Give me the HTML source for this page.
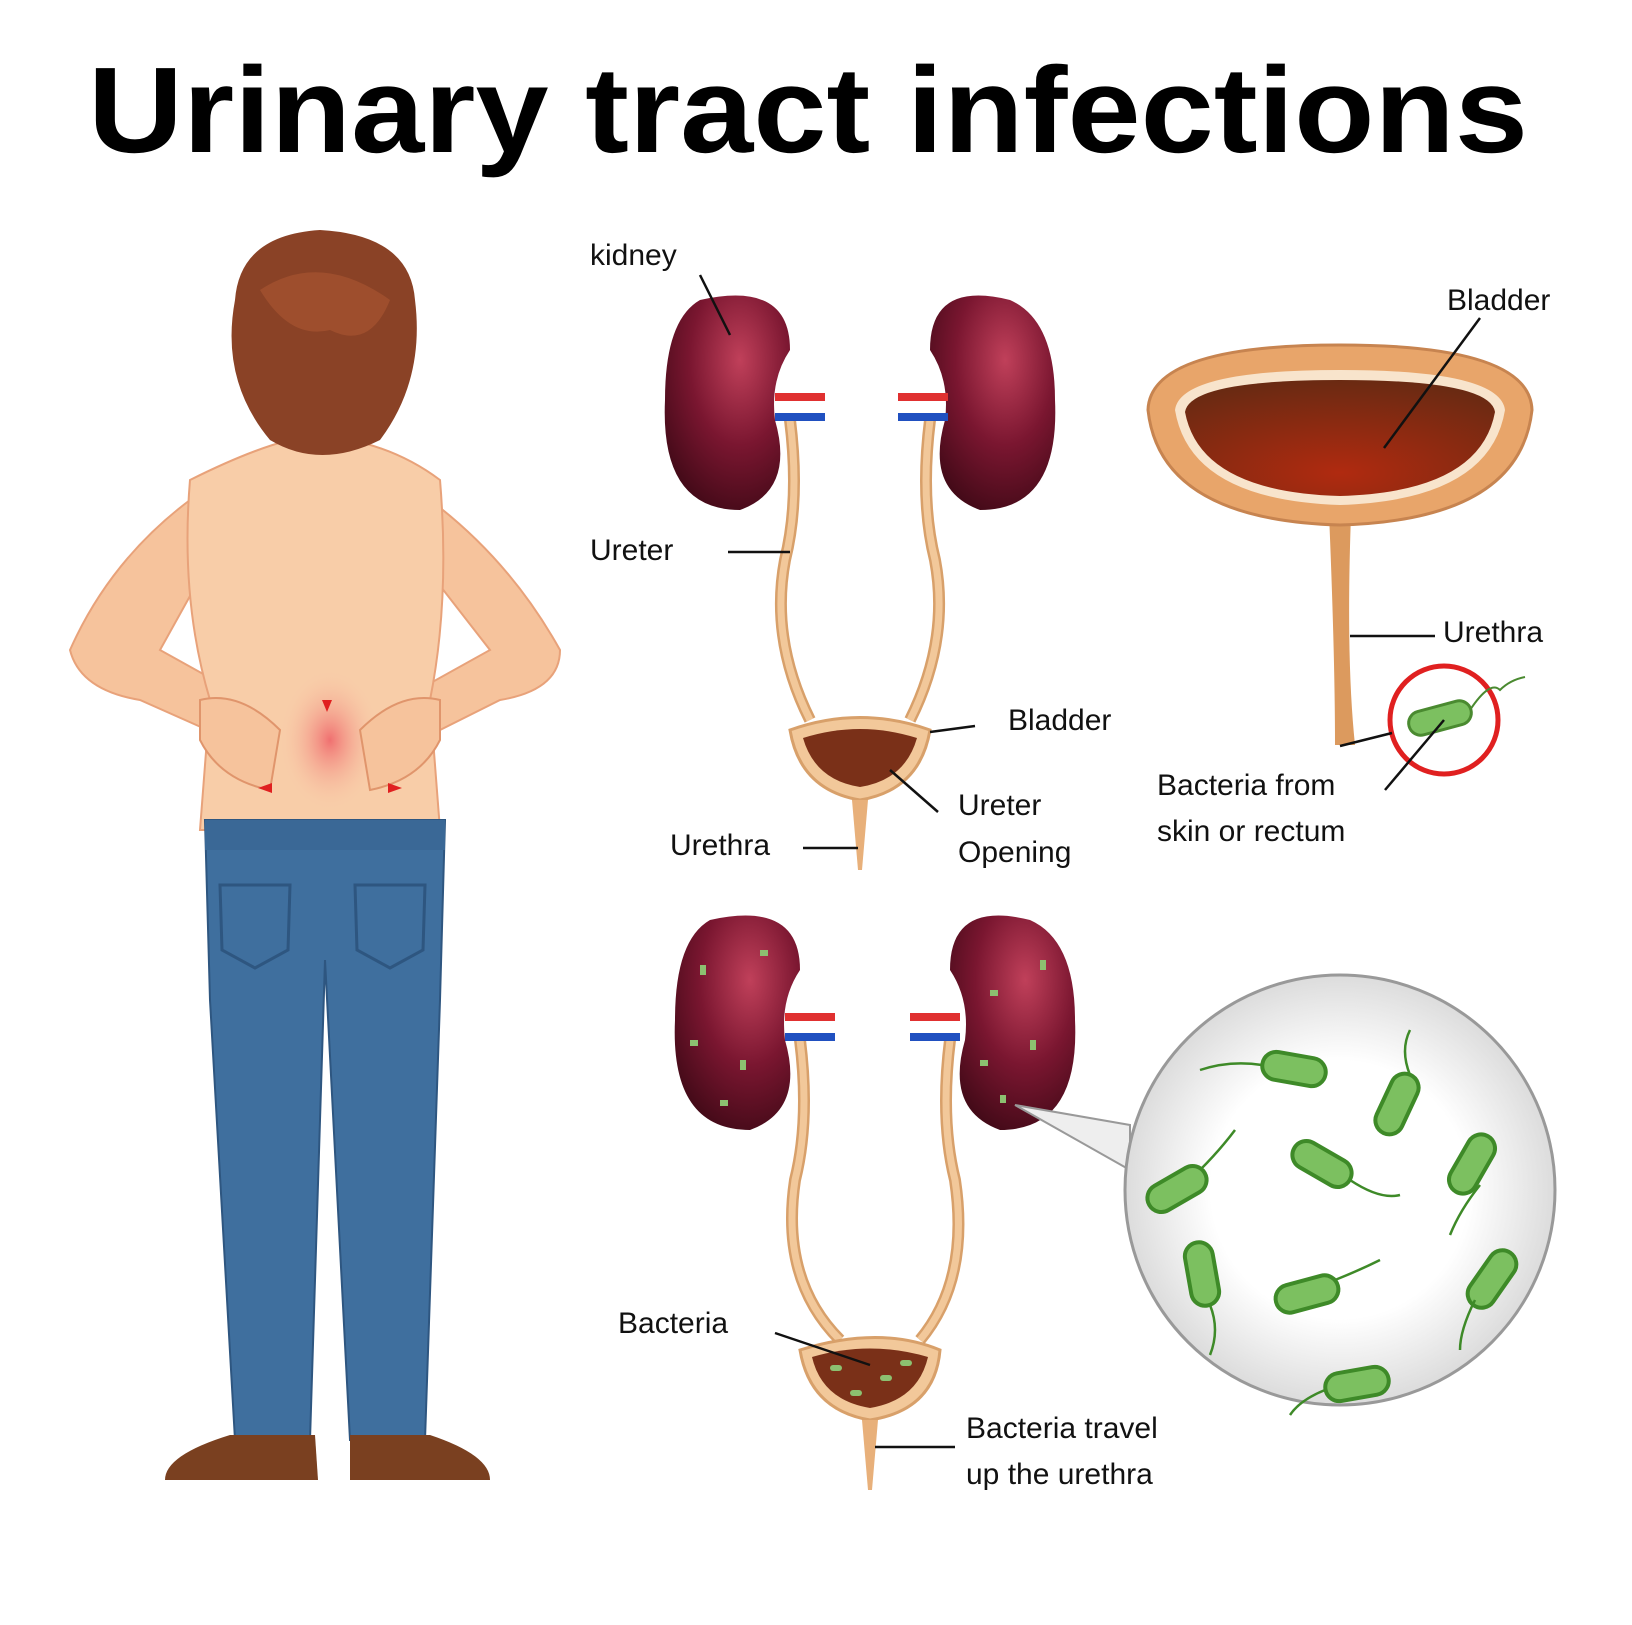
<!DOCTYPE html>
<html><head><meta charset="utf-8"><style>html,body{margin:0;padding:0;background:#fff}svg{display:block}</style></head><body>
<svg width="1632" height="1625" viewBox="0 0 1632 1625" xmlns="http://www.w3.org/2000/svg" font-family="Liberation Sans, sans-serif">
<defs>
<radialGradient id="kid" cx="0.6" cy="0.3" r="0.8"><stop offset="0" stop-color="#c0405a"/><stop offset="0.5" stop-color="#7a1630"/><stop offset="1" stop-color="#3a0814"/></radialGradient>
<radialGradient id="bl" cx="0.5" cy="0.8" r="0.8"><stop offset="0" stop-color="#b02a10"/><stop offset="1" stop-color="#6a2a12"/></radialGradient>
<radialGradient id="zoom" cx="0.5" cy="0.5" r="0.5"><stop offset="0.6" stop-color="#ffffff"/><stop offset="1" stop-color="#dcdcdc"/></radialGradient>
<radialGradient id="pain" cx="0.5" cy="0.5" r="0.5"><stop offset="0" stop-color="#f07070"/><stop offset="1" stop-color="#f8c8a8" stop-opacity="0"/></radialGradient>
</defs>
<rect width="1632" height="1625" fill="#fff"/>
<text x="808" y="152" font-size="122" font-weight="bold" text-anchor="middle" textLength="1440" lengthAdjust="spacingAndGlyphs">Urinary tract infections</text>

<!-- man -->
<g>
<!-- arms -->
<path d="M190 500 Q110 560 70 650 Q80 690 140 700 L230 740 L250 700 L160 650 L210 560Z" fill="#f6c39c" stroke="#e8a27a" stroke-width="2"/>
<path d="M430 500 Q510 560 560 650 Q560 690 500 700 L420 740 L400 700 L490 650 L420 560Z" fill="#f6c39c" stroke="#e8a27a" stroke-width="2"/>
<path d="M190 480 Q250 450 290 440 L290 420 L350 420 L350 440 Q400 450 440 480 Q450 600 430 700 L440 830 L200 830 L210 700 Q180 600 190 480Z" fill="#f8cda8" stroke="#e8a27a" stroke-width="2"/>
<ellipse cx="330" cy="740" rx="50" ry="70" fill="url(#pain)"/>
<path d="M200 700 Q240 690 280 730 L270 790 Q220 780 200 740Z" fill="#f6c39c" stroke="#e0956c" stroke-width="2"/>
<path d="M440 700 Q400 690 360 730 L370 790 Q420 780 440 740Z" fill="#f6c39c" stroke="#e0956c" stroke-width="2"/>
<path d="M322 700 l10 0 l-5 12z M258 788 l14 -5 l0 10z M402 788 l-14 -5 l0 10z M330 850 l-6 12 l12 0z" fill="#e02020"/>
<!-- hair -->
<path d="M235 300 Q240 235 320 230 Q410 235 415 300 Q425 380 380 440 Q320 470 270 440 Q220 380 235 300Z" fill="#8a4226"/>
<path d="M260 290 Q320 250 390 300 Q370 350 330 330 Q290 340 260 290Z" fill="#a65430" opacity="0.7"/>
<!-- jeans -->
<path d="M205 820 L445 820 L440 1000 L425 1440 L350 1440 L325 960 L310 1440 L235 1440 L210 1000Z" fill="#3f6f9e" stroke="#2e5680" stroke-width="2"/>
<rect x="205" y="820" width="240" height="30" fill="#3a6896"/>
<path d="M220 885 L290 885 L288 950 L255 968 L222 950Z" fill="none" stroke="#2e5680" stroke-width="3"/>
<path d="M355 885 L425 885 L423 950 L390 968 L357 950Z" fill="none" stroke="#2e5680" stroke-width="3"/>
<!-- shoes -->
<path d="M230 1435 L315 1435 L318 1480 L165 1480 Q165 1455 230 1435Z" fill="#7a4020"/>
<path d="M350 1435 L430 1435 Q490 1455 490 1480 L350 1480Z" fill="#7a4020"/>
</g>

<!-- top urinary system -->
<g>
<path d="M790 420 Q800 500 785 560 Q770 640 810 720" fill="none" stroke="#d8a06a" stroke-width="12"/>
<path d="M790 420 Q800 500 785 560 Q770 640 810 720" fill="none" stroke="#f2c89a" stroke-width="7"/>
<path d="M930 420 Q920 500 935 560 Q950 640 910 720" fill="none" stroke="#d8a06a" stroke-width="12"/>
<path d="M930 420 Q920 500 935 560 Q950 640 910 720" fill="none" stroke="#f2c89a" stroke-width="7"/>
<path d="M700 300 Q790 280 790 350 Q770 380 775 420 Q795 490 740 510 Q660 510 665 400 Q665 320 700 300Z" fill="url(#kid)"/>
<path d="M1010 300 Q930 280 930 350 Q950 380 945 420 Q925 490 980 510 Q1060 510 1055 400 Q1055 320 1010 300Z" fill="url(#kid)"/>
<rect x="775" y="393" width="50" height="8" fill="#e03030"/><rect x="775" y="413" width="50" height="8" fill="#2050c0"/>
<rect x="898" y="393" width="50" height="8" fill="#e03030"/><rect x="898" y="413" width="50" height="8" fill="#2050c0"/>
<path d="M790 730 Q860 705 930 730 Q920 790 860 800 Q800 790 790 730Z" fill="#f2c89a" stroke="#d8a06a" stroke-width="3"/>
<path d="M803 738 Q860 720 917 738 Q905 780 860 787 Q815 780 803 738Z" fill="#7a3018"/>
<path d="M852 800 L868 800 L862 870 L858 870Z" fill="#e8b07a"/>
</g>
<g font-size="30" fill="#111">
<text x="590" y="265">kidney</text>
<line x1="700" y1="275" x2="730" y2="335" stroke="#111" stroke-width="2.5"/>
<text x="590" y="560">Ureter</text>
<line x1="728" y1="552" x2="790" y2="552" stroke="#111" stroke-width="2.5"/>
<text x="1008" y="730">Bladder</text>
<line x1="930" y1="732" x2="975" y2="726" stroke="#111" stroke-width="2.5"/>
<text x="958" y="815">Ureter</text>
<text x="958" y="862">Opening</text>
<line x1="890" y1="770" x2="938" y2="812" stroke="#111" stroke-width="2.5"/>
<text x="670" y="855">Urethra</text>
<line x1="803" y1="848" x2="858" y2="848" stroke="#111" stroke-width="2.5"/>
</g>

<!-- big bladder -->
<g>
<path d="M1328 490 L1352 490 Q1345 650 1355 745 L1335 745 Q1335 650 1328 490Z" fill="#dc9a5e"/>
<path d="M1148 410 Q1150 345 1340 345 Q1530 345 1532 410 Q1520 520 1340 525 Q1160 520 1148 410Z" fill="#e8a56a" stroke="#c78450" stroke-width="3"/>
<path d="M1175 410 Q1180 370 1340 370 Q1500 370 1505 410 Q1490 500 1340 505 Q1190 500 1175 410Z" fill="#f8e4cc"/>
<path d="M1185 412 Q1190 380 1340 380 Q1490 380 1495 412 Q1480 492 1340 496 Q1200 492 1185 412Z" fill="url(#bl)"/>
<circle cx="1444" cy="720" r="54" fill="none" stroke="#e02020" stroke-width="5"/>
<rect x="1408" y="706" width="64" height="24" rx="12" fill="#7cc060" stroke="#4a8a30" stroke-width="3" transform="rotate(-15 1440 718)"/>
<path d="M1470 710 Q1490 680 1500 690 Q1510 680 1525 677" fill="none" stroke="#4a8a30" stroke-width="2"/>
</g>
<g font-size="30" fill="#111">
<text x="1447" y="310">Bladder</text>
<line x1="1480" y1="318" x2="1384" y2="448" stroke="#111" stroke-width="2.5"/>
<text x="1443" y="642">Urethra</text>
<line x1="1350" y1="636" x2="1435" y2="636" stroke="#111" stroke-width="2.5"/>
<text x="1157" y="795">Bacteria from</text>
<text x="1157" y="841">skin or rectum</text>
<line x1="1340" y1="746" x2="1392" y2="733" stroke="#111" stroke-width="2.5"/>
<line x1="1385" y1="790" x2="1444" y2="720" stroke="#111" stroke-width="2.5"/>
</g>

<!-- bottom urinary system -->
<g>
<path d="M800 1040 Q810 1120 795 1180 Q780 1280 840 1340" fill="none" stroke="#d8a06a" stroke-width="12"/>
<path d="M800 1040 Q810 1120 795 1180 Q780 1280 840 1340" fill="none" stroke="#f2c89a" stroke-width="7"/>
<path d="M950 1040 Q940 1120 955 1180 Q970 1280 920 1340" fill="none" stroke="#d8a06a" stroke-width="12"/>
<path d="M950 1040 Q940 1120 955 1180 Q970 1280 920 1340" fill="none" stroke="#f2c89a" stroke-width="7"/>
<path d="M710 920 Q800 900 800 970 Q780 1000 785 1040 Q805 1110 750 1130 Q670 1130 675 1020 Q675 940 710 920Z" fill="url(#kid)"/>
<path d="M1030 920 Q950 900 950 970 Q970 1000 965 1040 Q945 1110 1000 1130 Q1080 1130 1075 1020 Q1075 940 1030 920Z" fill="url(#kid)"/>
<rect x="785" y="1013" width="50" height="8" fill="#e03030"/><rect x="785" y="1033" width="50" height="8" fill="#2050c0"/>
<rect x="910" y="1013" width="50" height="8" fill="#e03030"/><rect x="910" y="1033" width="50" height="8" fill="#2050c0"/>
<g fill="#8cc070">
<rect x="700" y="965" width="6" height="10"/><rect x="690" y="1040" width="8" height="6"/><rect x="760" y="950" width="8" height="6"/><rect x="740" y="1060" width="6" height="10"/><rect x="720" y="1100" width="8" height="6"/>
<rect x="1040" y="960" width="6" height="10"/><rect x="990" y="990" width="8" height="6"/><rect x="1030" y="1040" width="6" height="10"/><rect x="980" y="1060" width="8" height="6"/><rect x="1000" y="1095" width="6" height="8"/>
</g>
<path d="M800 1350 Q880 1325 940 1350 Q935 1410 870 1420 Q810 1410 800 1350Z" fill="#f2c89a" stroke="#d8a06a" stroke-width="3"/>
<path d="M812 1357 Q870 1340 928 1357 Q918 1400 870 1408 Q822 1400 812 1357Z" fill="#7a3018"/>
<g fill="#8cc070"><rect x="830" y="1365" width="12" height="6" rx="3"/><rect x="880" y="1375" width="12" height="6" rx="3"/><rect x="850" y="1390" width="12" height="6" rx="3"/><rect x="900" y="1360" width="12" height="6" rx="3"/></g>
<path d="M862 1420 L878 1420 L872 1490 L868 1490Z" fill="#e8b07a"/>
<!-- zoom -->
<path d="M1015 1105 L1130 1125 L1130 1170Z" fill="#eee" stroke="#999" stroke-width="2"/>
<circle cx="1340" cy="1190" r="215" fill="url(#zoom)" stroke="#999" stroke-width="3"/>
<g fill="#7cc060" stroke="#3e8a28" stroke-width="4">
<rect x="1262" y="1055" width="64" height="28" rx="14" transform="rotate(10 1294 1069)"/>
<rect x="1365" y="1090" width="64" height="28" rx="14" transform="rotate(-65 1397 1104)"/>
<rect x="1290" y="1150" width="64" height="28" rx="14" transform="rotate(30 1322 1164)"/>
<rect x="1440" y="1150" width="64" height="28" rx="14" transform="rotate(-60 1472 1164)"/>
<rect x="1145" y="1175" width="64" height="28" rx="14" transform="rotate(-30 1177 1189)"/>
<rect x="1170" y="1260" width="64" height="28" rx="14" transform="rotate(80 1202 1274)"/>
<rect x="1275" y="1280" width="64" height="28" rx="14" transform="rotate(-15 1307 1294)"/>
<rect x="1460" y="1265" width="64" height="28" rx="14" transform="rotate(-55 1492 1279)"/>
<rect x="1325" y="1370" width="64" height="28" rx="14" transform="rotate(-10 1357 1384)"/>
</g>
<g fill="none" stroke="#3e8a28" stroke-width="2.5">
<path d="M1262 1065 Q1230 1060 1200 1070"/><path d="M1410 1075 Q1400 1050 1410 1030"/><path d="M1350 1180 Q1380 1200 1400 1195"/>
<path d="M1480 1185 Q1460 1210 1450 1235"/><path d="M1200 1170 Q1220 1150 1235 1130"/><path d="M1210 1305 Q1220 1330 1210 1355"/>
<path d="M1335 1280 Q1360 1270 1380 1260"/><path d="M1475 1300 Q1460 1330 1460 1350"/><path d="M1325 1390 Q1300 1400 1290 1415"/>
</g>
</g>
<g font-size="30" fill="#111">
<text x="618" y="1333">Bacteria</text>
<line x1="775" y1="1333" x2="870" y2="1365" stroke="#111" stroke-width="2.5"/>
<text x="966" y="1438">Bacteria travel</text>
<text x="966" y="1484">up the urethra</text>
<line x1="875" y1="1447" x2="955" y2="1447" stroke="#111" stroke-width="2.5"/>
</g>
</svg>
</body></html>
